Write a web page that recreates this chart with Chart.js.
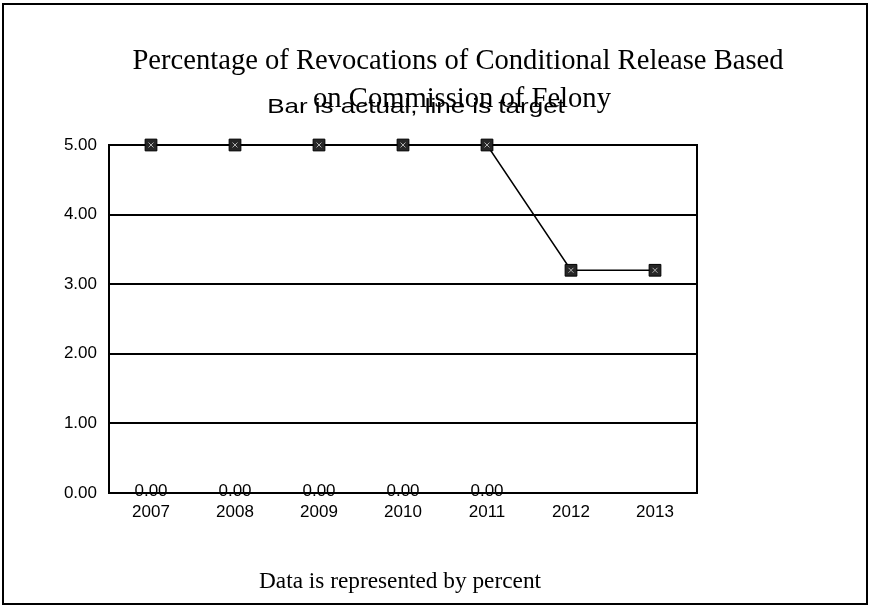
<!DOCTYPE html>
<html>
<head>
<meta charset="utf-8">
<script src="https://cdn.jsdelivr.net/npm/chart.js@4/dist/chart.umd.min.js"></script>
<style>
  html, body { margin: 0; padding: 0; background: #fff; }
  canvas { display: block; }
</style>
</head>
<body>
<canvas id="c" width="870" height="607"></canvas>
<script>
const categories = ['2007', '2008', '2009', '2010', '2011', '2012', '2013'];
const actual = [0, 0, 0, 0, 0, null, null];
const target = [5, 5, 5, 5, 5, 3.2, 3.2];
const titleLines = ['Percentage of Revocations of Conditional Release Based', 'on Commission of Felony'];
const subtitleText = 'Bar is actual, line is target';
const footerText = 'Data is represented by percent';

const textPlugin = {
  id: 'texts',
  beforeDraw(chart) {
    const ctx = chart.ctx;
    ctx.save();
    ctx.fillStyle = '#fff';
    ctx.fillRect(0, 0, chart.width, chart.height);
    ctx.strokeStyle = '#000';
    ctx.lineWidth = 2;
    ctx.strokeRect(3, 4, 864, 600);
    ctx.restore();
  },
  afterDraw(chart) {
    const ctx = chart.ctx;
    const a = chart.chartArea;
    ctx.save();
    ctx.strokeStyle = '#000';
    ctx.lineWidth = 2;
    ctx.beginPath();
    ctx.moveTo(a.right, a.top - 1);
    ctx.lineTo(a.right, a.bottom + 1);
    ctx.stroke();
    ctx.fillStyle = '#000';
    ctx.textAlign = 'center';
    ctx.textBaseline = 'alphabetic';
    ctx.font = '28.6px "Liberation Serif", "Times New Roman", serif';
    ctx.fillText(titleLines[0], 458, 69);
    ctx.fillText(titleLines[1], 462, 107);
    ctx.save();
    ctx.translate(416, 113);
    ctx.scale(1, 0.78);
    ctx.font = '26px "Liberation Sans", Arial, sans-serif';
    ctx.fillText(subtitleText, 0, 0);
    ctx.restore();
    ctx.font = '23.3px "Liberation Serif", "Times New Roman", serif';
    ctx.fillText(footerText, 400, 588);
    ctx.restore();
  },
  afterDatasetsDraw(chart) {
    const ctx = chart.ctx;
    const meta = chart.getDatasetMeta(2);
    ctx.save();
    ctx.fillStyle = '#000';
    ctx.font = '17px "Liberation Sans", Arial, sans-serif';
    ctx.textAlign = 'center';
    ctx.textBaseline = 'middle';
    meta.data.forEach((el, i) => {
      const v = actual[i];
      if (v === null || v === undefined) return;
      ctx.fillText(v.toFixed(2), el.x, el.y - 2);
    });
    ctx.restore();
  }
};

new Chart(document.getElementById('c'), {
  type: 'bar',
  data: {
    labels: categories,
    datasets: [
      {
        type: 'line',
        data: target,
        borderColor: '#000',
        borderWidth: 1.5,
        tension: 0,
        pointStyle: 'rect',
        pointRadius: 8.3,
        pointBackgroundColor: '#262626',
        pointBorderColor: '#000',
        pointBorderWidth: 1,
        clip: false,
        order: 0
      },
      {
        type: 'line',
        data: target,
        showLine: false,
        pointStyle: 'crossRot',
        pointRadius: 3.5,
        pointBorderColor: '#b0b0b0',
        pointBorderWidth: 1,
        clip: false,
        order: -1
      },
      {
        type: 'bar',
        data: actual,
        backgroundColor: '#555',
        order: 2
      }
    ]
  },
  options: {
    responsive: false,
    animation: false,
    events: [],
    layout: { padding: { top: 145, right: 173, bottom: 84, left: 0 } },
    plugins: { legend: { display: false }, tooltip: { enabled: false }, title: { display: false } },
    scales: {
      x: {
        offset: true,
        grid: { display: false, drawTicks: false },
        border: { display: true, color: '#000', width: 2 },
        ticks: { color: '#000', font: { family: '"Liberation Sans", Arial, sans-serif', size: 17 }, padding: 9, maxRotation: 0 },
        afterFit(s) { s.height = 30; }
      },
      y: {
        min: 0,
        max: 5,
        ticks: {
          stepSize: 1,
          color: '#000',
          font: { family: '"Liberation Sans", Arial, sans-serif', size: 17 },
          padding: 12,
          callback: v => Number(v).toFixed(2)
        },
        grid: { color: '#000', lineWidth: 2, drawTicks: false },
        border: { display: true, color: '#000', width: 2 },
        afterFit(s) { s.width = 109; }
      }
    }
  },
  plugins: [textPlugin]
});
</script>
</body>
</html>
